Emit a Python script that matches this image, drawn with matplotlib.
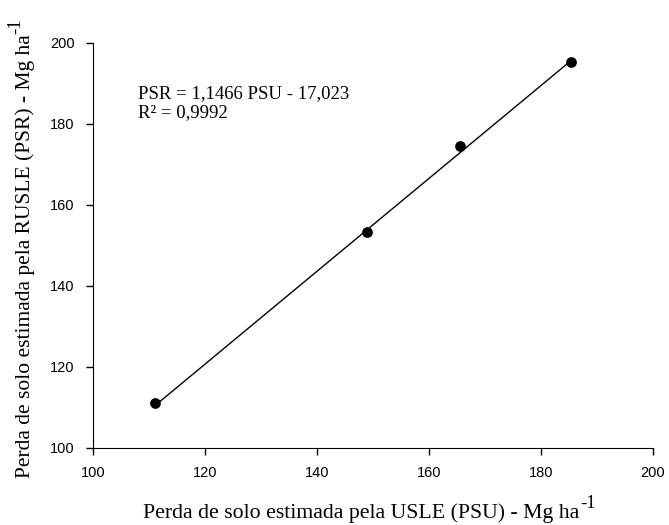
import numpy as np
import matplotlib.pyplot as plt

# data
psu = [111.1, 149.0, 165.6, 185.4]
psr = [111.0, 153.2, 174.5, 195.2]
slope, intercept = 1.1466, -17.023
eq_text = "PSR = 1,1466 PSU - 17,023\nR² = 0,9992"

fig = plt.figure(figsize=(6.69, 5.25), dpi=100)
ax = fig.add_axes([92.7 / 669, 1 - 447.7 / 525, 560 / 669, 405 / 525])

xf = np.array([min(psu), max(psu)])
ax.plot(xf, slope * xf + intercept, color='black', lw=1)
ax.scatter(psu, psr, s=45, color='black', zorder=3)

ax.set_xlim(100, 200)
ax.set_ylim(100, 200)
ax.set_xticks([100, 120, 140, 160, 180, 200])
ax.set_yticks([100, 120, 140, 160, 180, 200])
for s in ['top', 'right']:
    ax.spines[s].set_visible(False)
ax.tick_params(length=5, width=1, pad=8, labelsize=10.5)
for lab in ax.get_xticklabels() + ax.get_yticklabels():
    lab.set_fontfamily('Liberation Sans')

ax.text(108.1, 185.2, eq_text, fontsize=13.5, family='Liberation Serif',
        va='center', linespacing=1.15)

# axis labels with a big superscript like the original
xl = ax.set_xlabel('Perda de solo estimada pela USLE (PSU) - Mg ha',
                   fontsize=15.7, family='Liberation Serif')
yl = ax.set_ylabel('Perda de solo estimada pela RUSLE (PSR) - Mg ha',
                   fontsize=15.5, family='Liberation Serif')
ax.xaxis.set_label_coords(0.48, -0.137)
ax.yaxis.set_label_coords(-0.103, 0.472)
ax.annotate('-1', xy=(1, 1), xycoords=xl, xytext=(0.5, 0), textcoords='offset points',
            ha='left', va='center', fontsize=13.5, family='Liberation Serif')
ax.annotate('-1', xy=(0, 1), xycoords=yl, xytext=(0, 0.5), textcoords='offset points',
            ha='center', va='bottom', rotation=90, fontsize=13.5, family='Liberation Serif')

fig.savefig('out.png', dpi=100)
